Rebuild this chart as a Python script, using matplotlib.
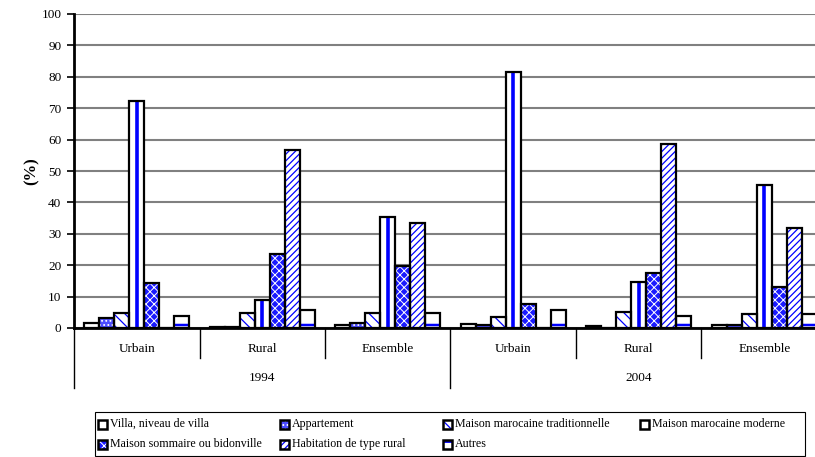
import matplotlib
matplotlib.use("Agg")
import matplotlib.pyplot as plt
import numpy as np
from matplotlib.patches import Rectangle
import matplotlib.transforms as mtransforms

plt.rcParams['font.family'] = ['Liberation Serif', 'DejaVu Serif']

# ---- data ----
sub_labels = ['Urbain', 'Rural', 'Ensemble', 'Urbain', 'Rural', 'Ensemble']
year_labels = ['1994', '2004']
series_names = ['Villa, niveau de villa', 'Appartement', 'Maison marocaine traditionnelle',
                'Maison marocaine moderne', 'Maison sommaire ou bidonville',
                'Habitation de type rural', 'Autres']
villa = [1.7, 0.3, 1.0, 1.3, 0.5, 1.0]
appart = [3.1, 0.4, 1.5, 0.8, 0.1, 0.8]
trad = [4.7, 4.9, 4.7, 3.4, 5.1, 4.5]
moderne = [72.4, 8.9, 35.2, 81.4, 14.8, 45.6]
sommaire = [14.4, 23.5, 19.7, 7.7, 17.4, 13.2]
rural = [0.0, 56.7, 33.3, 0.0, 58.6, 31.7]
autres = [3.9, 5.8, 4.7, 5.7, 3.8, 4.5]
series = [villa, appart, trad, moderne, sommaire, rural, autres]

BLUE = '#0000ff'
# (facecolor, hatch, hatchcolor, hatch linewidth)
styles = [
    ('white', None, BLUE, 1.0),
    ('#4d4dff', '....', 'white', 0.8),
    ('white', '\\\\\\', BLUE, 0.9),
    ('white', None, BLUE, 1.0),
    ('#1a1aff', 'xxxx', 'white', 0.7),
    ('white', '/////', BLUE, 0.9),
    ('white', '-', BLUE, 1.8),
]

W, H = 815, 457
fig = plt.figure(figsize=(W / 100, H / 100), dpi=100)
ax = fig.add_axes([74 / W, 129 / H, 753 / W, 314 / H])

n = len(series)
bw = 0.12
x = np.arange(len(sub_labels))
for i, (vals, (fc, h, hc, hlw)) in enumerate(zip(series, styles)):
    pos = x + (i - (n - 1) / 2) * bw
    with plt.rc_context({'hatch.linewidth': hlw}):
        ax.bar(pos, vals, bw, color=fc, hatch=h, edgecolor=hc, linewidth=0, zorder=3)
    if i == 3:
        ax.vlines(pos, 0, vals, color=BLUE, lw=2.6, zorder=3.5)
    ax.bar(pos, vals, bw, fill=False, edgecolor='black', linewidth=1.6, zorder=4)

ax.set_xlim(-0.5, len(sub_labels) - 0.5)
ax.set_ylim(0, 100)
ax.set_yticks(np.arange(0, 101, 10))
ax.yaxis.grid(True, color='#808080', linewidth=1.5, zorder=0)
ax.set_axisbelow(True)
ax.tick_params(axis='y', direction='out', length=5, width=1.2, labelsize=9.5, pad=4)
ax.set_xticks([])
for s in ['top', 'right']:
    ax.spines[s].set_visible(False)
ax.spines['left'].set_linewidth(2)
ax.spines['bottom'].set_linewidth(2)
ax.set_ylabel('(%)', fontsize=12, fontweight='bold')
ax.yaxis.set_label_coords(-0.046, 0.5)

trans = mtransforms.blended_transform_factory(ax.transData, ax.transAxes)
ax.plot([-0.5, -0.5], [0, -0.191], transform=trans, color='black', lw=1, clip_on=False)
for b in [0.5, 1.5, 3.5, 4.5]:
    ax.plot([b, b], [0, -0.0955], transform=trans, color='black', lw=1, clip_on=False)
ax.plot([2.5, 2.5], [0, -0.191], transform=trans, color='black', lw=1, clip_on=False)
for xi, lab in zip(x, sub_labels):
    ax.text(xi, -0.067, lab, transform=trans, ha='center', va='center', fontsize=9.5)
for k, yl in enumerate(year_labels):
    ax.text(1 + 3 * k, -0.159, yl, transform=trans, ha='center', va='center', fontsize=9.5)

# ---- legend (laid out like the original's fixed-width columns) ----
def fx(px):
    return px / W

def fy(py):
    return (H - py) / H

frame = Rectangle((fx(95), fy(456)), fx(805) - fx(95), fy(412) - fy(456),
                  transform=fig.transFigure, fill=False, edgecolor='black', lw=0.8)
fig.add_artist(frame)
col_x = [98, 280, 443, 640]
row_y = [424, 444]
sq = 9
for idx, (name, (fc, h, hc, hlw)) in enumerate(zip(series_names, styles)):
    r, c = divmod(idx, 4)
    x0, yc = col_x[c], row_y[r]
    with plt.rc_context({'hatch.linewidth': hlw}):
        r1 = Rectangle((fx(x0), fy(yc + sq / 2)), sq / W, sq / H, transform=fig.transFigure,
                       facecolor=fc, hatch=h, edgecolor=hc, lw=0)
    r2 = Rectangle((fx(x0), fy(yc + sq / 2)), sq / W, sq / H, transform=fig.transFigure,
                   fill=False, edgecolor='black', lw=1.8)
    fig.add_artist(r1)
    fig.add_artist(r2)
    fig.text(fx(x0 + sq + 3), fy(yc), name, ha='left', va='center', fontsize=8.6)

fig.savefig('out.png', dpi=100)
